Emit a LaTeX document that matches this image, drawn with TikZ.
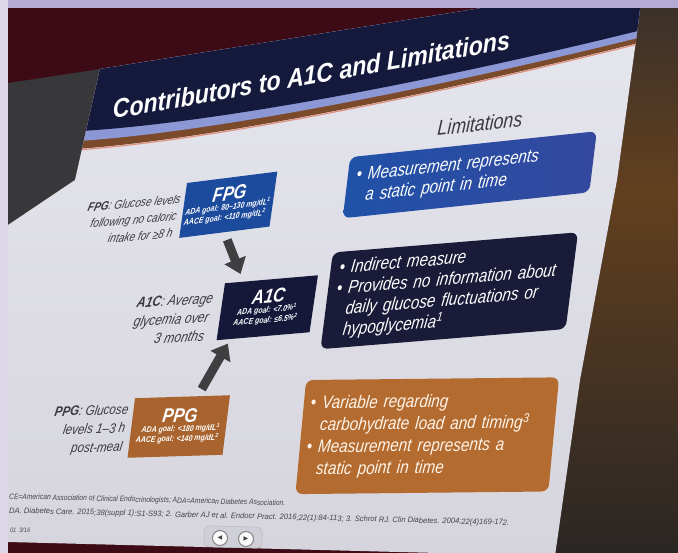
\documentclass[tikz,border=0pt]{standalone}
\usepackage{fontspec}
\setmainfont{Liberation Sans}
\newfontfamily\narrowsans[FakeStretch=0.85]{Liberation Sans}
\newfontfamily\titlesans[FakeStretch=0.9]{Liberation Sans}
\newfontfamily\symsans{DejaVu Sans}
\usetikzlibrary{arrows.meta,calc}

% palette
\definecolor{framelav}{HTML}{B4AAD4}
\definecolor{framewhite}{HTML}{DCD8EA}
\definecolor{wallmaroon}{HTML}{3D0B16}
\definecolor{wallgray}{HTML}{38373A}
\definecolor{walltop}{HTML}{3A302A}
\definecolor{wallmid}{HTML}{62401F}
\definecolor{wallbot}{HTML}{2A2624}
\definecolor{slidetop}{HTML}{E6E6EE}
\definecolor{slidebot}{HTML}{D6D5DE}
\definecolor{bannernavy}{HTML}{151A3D}
\definecolor{bandblue}{HTML}{8C98D6}
\definecolor{bandbrown}{HTML}{7A4A2A}
\definecolor{bandpink}{HTML}{E09080}
\definecolor{fpgblue}{HTML}{1C4A9C}
\definecolor{aonecnavy}{HTML}{16183A}
\definecolor{ppgorange}{HTML}{A9632E}
\definecolor{limblue}{HTML}{1F52A8}
\definecolor{limblueb}{HTML}{34489E}
\definecolor{limnavy}{HTML}{1A1B38}
\definecolor{limorange}{HTML}{B36B2F}
\definecolor{arrowgray}{HTML}{3F3F42}
\definecolor{desctext}{HTML}{3A3A3E}
\definecolor{notetext}{HTML}{45454C}
\definecolor{tabgray}{HTML}{CFCFD8}

% type sizes used on the slide
\newcommand\slTitle{\titlesans\bfseries\itshape\fontsize{26}{30}\selectfont}
\newcommand\slHead{\narrowsans\itshape\fontsize{21}{24}\selectfont}
\newcommand\slLimit{\narrowsans\itshape\fontsize{18}{20.7}\selectfont}
\newcommand\slBoxLabel{\narrowsans\bfseries\itshape\fontsize{19.5}{21}\selectfont}
\newcommand\slGoal{\narrowsans\bfseries\itshape\fontsize{8.2}{10}\selectfont}
\newcommand\slNote{\itshape\fontsize{7.9}{10}\selectfont}
\newcommand\slIndent{\phantom{\textbullet\ }}

\begin{document}
\begin{tikzpicture}[x=1pt,y=-1pt,
  bigarrow/.style={draw=arrowgray, line width=9pt,
    -{Triangle[length=15pt,width=22pt]}},
  goalbox/.style={inner sep=0pt, align=center, text=white},
  limbox/.style={inner ysep=0pt, inner xsep=9pt, align=left,
    rounded corners=7pt, font=\slLimit},
  desc/.style={inner sep=0pt, align=right, text=desctext},
  note/.style={inner sep=0pt, anchor=base west, text=notetext, font=\slNote,
    rotate=-1.4, xscale=0.85},
  navbtn/.style={circle, minimum size=15pt, inner sep=0pt, fill=white!90!tabgray,
    draw=black!45, line width=1.1pt, text=black!75,
    font=\symsans\fontsize{6}{6}\selectfont},
]
\useasboundingbox (0,0) rectangle (678,553);

% room behind the screen
\fill[wallgray] (0,0) rectangle (678,553);
\fill[wallmaroon] (8,8) -- (482,8) -- (100,69) -- (8,83) -- cycle;
\begin{scope}
  \clip (637,8) -- (678,8) -- (678,553) -- (555,553) -- (580,380) -- (617,180)
    -- (637,33) -- cycle;
  \shade[top color=walltop, bottom color=wallmid] (540,0) rectangle (678,190);
  \shade[top color=wallmid, bottom color=wallbot] (540,190) rectangle (678,553);
\end{scope}
\fill[wallmaroon] (8,528) rectangle (556,553);

% projected slide
\begin{scope}
  \clip (100,69) -- (482,8) -- (640,8) -- (637,33) -- (617,180) -- (580,380)
    -- (555,556) -- (8,542) -- (8,225) -- (75,180) -- cycle;
  \shade[top color=slidetop, bottom color=slidebot] (0,0) rectangle (678,553);
  % title banner with its blue and brown swoosh
  \fill[bandbrown] (40,0) -- (700,0) -- (700,40) -- (650,40)
    .. controls (400,103) and (180,144) .. (60,150) -- (40,150) -- cycle;
  \draw[bandpink, line width=1.2pt] (650,41)
    .. controls (400,104) and (180,145) .. (60,151);
  \fill[bandblue] (40,0) -- (700,0) -- (700,35) -- (650,35)
    .. controls (400,97) and (180,137) .. (60,142) -- (40,142) -- cycle;
  \fill[bannernavy] (40,0) -- (700,0) -- (700,28) -- (650,28)
    .. controls (400,90) and (180,128) .. (60,132) -- (40,132) -- cycle;
\end{scope}

% outer frame
\fill[framelav] (0,0) rectangle (678,8);
\fill[framewhite] (0,0) rectangle (8,553);

% title and column heading
\node[inner sep=0pt, anchor=base west, rotate=10, xslant=0.15, text=white,
  font=\slTitle] (title) at (113,119) {Contributors to A1C and Limitations};
\node[inner sep=0pt, anchor=base west, rotate=6.5, xslant=0.18, text=desctext,
  font=\slHead] (limhead) at (437,136) {Limitations};

% the three glucose measures
\node[goalbox, fill=fpgblue, rotate=7.2, xslant=0.273, minimum width=91pt,
  minimum height=53.5pt] (fpg) at (228.25,204.75)
  {{\slBoxLabel FPG}\\[1pt]
   {\slGoal\begin{tabular}{@{}l@{}}ADA goal: 80–130 mg/dL\textsuperscript{1}\\
    AACE goal: <110 mg/dL\textsuperscript{2}\end{tabular}}};
\node[goalbox, fill=aonecnavy, rotate=4.9, xslant=0.236, minimum width=93.3pt,
  minimum height=56pt] (a1c) at (267.25,307.75)
  {{\slBoxLabel A1C}\\[1pt]
   {\slGoal\begin{tabular}{@{}c@{}}ADA goal: <7.0\%\textsuperscript{1}\\
    AACE goal: ≤6.5\%\textsuperscript{2}\end{tabular}}};
\node[goalbox, fill=ppgorange, rotate=1.8, xslant=0.157, minimum width=95pt,
  minimum height=59.3pt] (ppg) at (178.75,426.5)
  {{\slBoxLabel PPG}\\[1pt]
   {\slGoal\begin{tabular}{@{}r@{}}ADA goal: <180 mg/dL\textsuperscript{1}\\
    AACE goal: <140 mg/dL\textsuperscript{2}\end{tabular}}};

% definitions beside the boxes
\node[desc, anchor=east, rotate=5, xslant=0.33,
  font=\narrowsans\itshape\fontsize{12}{16.5}\selectfont] (fpgdesc) at (177,216)
  {\textbf{FPG}: Glucose levels\\following no caloric\\intake for ≥8 h};
\node[desc, anchor=east, rotate=3.5, xslant=0.3,
  font=\narrowsans\itshape\fontsize{14.3}{18.5}\selectfont] (a1cdesc) at (209,317)
  {\textbf{A1C}: Average\\glycemia over\\3 months};
\node[desc, anchor=east, rotate=2, xslant=0.2,
  font=\narrowsans\itshape\fontsize{13.7}{18.5}\selectfont] (ppgdesc) at (125.5,429)
  {\textbf{PPG}: Glucose\\levels 1–3 h\\post-meal};

% both measures feed into A1C
\draw[bigarrow, shorten <=8pt, shorten >=8pt]
  (fpg.south) -- ($(a1c.north west)!0.2!(a1c.north east)$);
\draw[bigarrow, shorten <=8pt, shorten >=5pt]
  ($(ppg.north west)!0.66!(ppg.north east)$)
  -- ($(a1c.south west)!0.15!(a1c.south east)$);

% limitations of each measure
\node[limbox, left color=limblue, right color=limblueb, text=white, rotate=6,
  xslant=0.23, text width=230pt, minimum height=60pt] (limfpg) at (469.75,174.75)
  {\textbullet\ Measurement represents\\\slIndent a static point in time};
\node[limbox, fill=limnavy, text=white, rotate=4.7, xslant=0.212,
  text width=228pt, minimum height=95.4pt] (lima1c) at (449.25,290.75)
  {\textbullet\ Indirect measure\\
   \textbullet\ Provides no information about\\
   \slIndent daily glucose fluctuations or\\
   \slIndent hypoglycemia\textsuperscript{1}};
\node[limbox, fill=limorange, text=white!92!orange, rotate=0.6, xslant=0.104,
  inner xsep=7pt, text width=239pt, minimum height=114pt,
  font=\narrowsans\itshape\fontsize{18}{22}\selectfont] (limppg) at (427.25,435.75)
  {\textbullet\ Variable regarding\\
   \slIndent carbohydrate load and timing\textsuperscript{3}\\
   \textbullet\ Measurement represents a\\
   \slIndent static point in time};

% footnotes
\node[note] (abbrev) at (9,499)
  {CE=American Association of Clinical Endocrinologists; ADA=American Diabetes Association.};
\node[note, xscale=1.13] (refs) at (9,513)
  {DA. Diabetes Care. 2015;38(suppl 1):S1-S93; 2. Garber AJ et al. Endocr Pract. 2016;22(1):84-113; 3. Schrot RJ. Clin Diabetes. 2004;22(4)169-172.};
\node[note, font=\itshape\fontsize{6.5}{8}\selectfont]
  (slideno) at (10,532) {01\ \ 3/16};

% navigation tab
\node[rounded corners=5pt, fill=tabgray, draw=black!30, minimum width=58pt,
  minimum height=21pt, rotate=-1.5] (navtab) at (233,537) {};
\node[navbtn] (prevbtn) at (220,538) {◀};
\node[navbtn] (nextbtn) at (246,539) {▶};
\end{tikzpicture}
\end{document}
